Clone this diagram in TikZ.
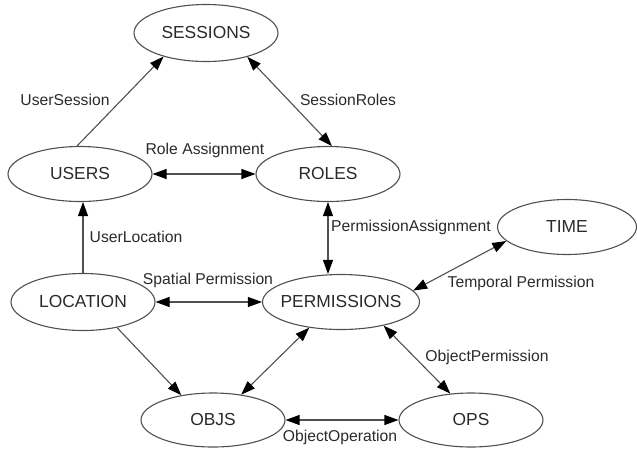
\documentclass[tikz,border=0pt]{standalone}
\usepackage{fontspec}
\setmainfont{Liberation Sans}
\usetikzlibrary{shapes.geometric,arrows.meta}
\definecolor{ln}{HTML}{505050}
\definecolor{tx}{HTML}{2A2A2A}
\begin{document}
\begin{tikzpicture}[x=1pt,y=-1pt,
  ent/.style={ellipse, draw=ln, line width=1.1pt, inner sep=0pt, text=tx,
    minimum width=144pt, minimum height=55pt,
    font=\fontsize{17.4}{20}\selectfont},
  lbl/.style={inner sep=0pt, text=tx, font=\fontsize{15.7}{18}\selectfont},
  con/.style={draw=ln, line width=1.1pt},
  tip/.style={},
  one/.style={con, -{Triangle[length=14pt,width=10pt,color=black]}},
  two/.style={con, {Triangle[length=14pt,width=10pt,color=black]}-{Triangle[length=14pt,width=10pt,color=black]}}
]
\useasboundingbox (0,0) rectangle (637,448);
% entities
\node[ent, minimum height=57pt] (ses) at (206,33) {\makebox[0pt]{SESSIONS}};
\node[ent] (usr) at (80,174) {\makebox[0pt]{USERS}};
\node[ent] (rol) at (328,174) {\makebox[0pt]{ROLES}};
\node[ent, minimum width=139pt] (tim) at (567,227) {\makebox[0pt]{TIME}};
\node[ent, minimum height=57pt] (loc) at (83,302) {\makebox[0pt]{LOCATION}};
\node[ent, minimum width=157pt] (per) at (341,302) {\makebox[0pt]{PERMISSIONS}};
\node[ent, minimum height=54pt] (obj) at (213,420) {\makebox[0pt]{OBJS}};
\node[ent, minimum height=54pt] (ops) at (471,420) {\makebox[0pt]{OPS}};
% connectors
\draw[one] (usr.96) -- (ses.209);
\draw[two] (ses.330) -- (rol.82);
\draw[two] (usr.east) -- (rol.west);
\draw[one] (loc.north) -- (loc.north |- usr.south);
\draw[two] (loc.east) -- (per.west);
\draw[two] (rol.south) -- (rol.south |- per.north);
\draw[two] (tim.193) -- (per.9);
\draw[one] (loc.323) -- (obj.142);
\draw[two] (per.219) -- (obj.42);
\draw[two] (per.331) -- (ops.128);
\draw[two] (obj.east) -- (ops.west);
% labels
\node[lbl] (l1) at (65,100) {UserSession};
\node[lbl] (l2) at (348,100) {SessionRoles};
\node[lbl] (l3) at (205,150) {Role Assignment};
\node[lbl] (l4) at (136,237) {UserLocation};
\node[lbl] (l5) at (208,280) {Spatial Permission};
\node[lbl] (l6) at (411,227) {PermissionAssignment};
\node[lbl] (l7) at (521,283) {Temporal Permission};
\node[lbl] (l8) at (487,357) {ObjectPermission};
\node[lbl] (l9) at (340,437) {ObjectOperation};
\end{tikzpicture}
\end{document}
